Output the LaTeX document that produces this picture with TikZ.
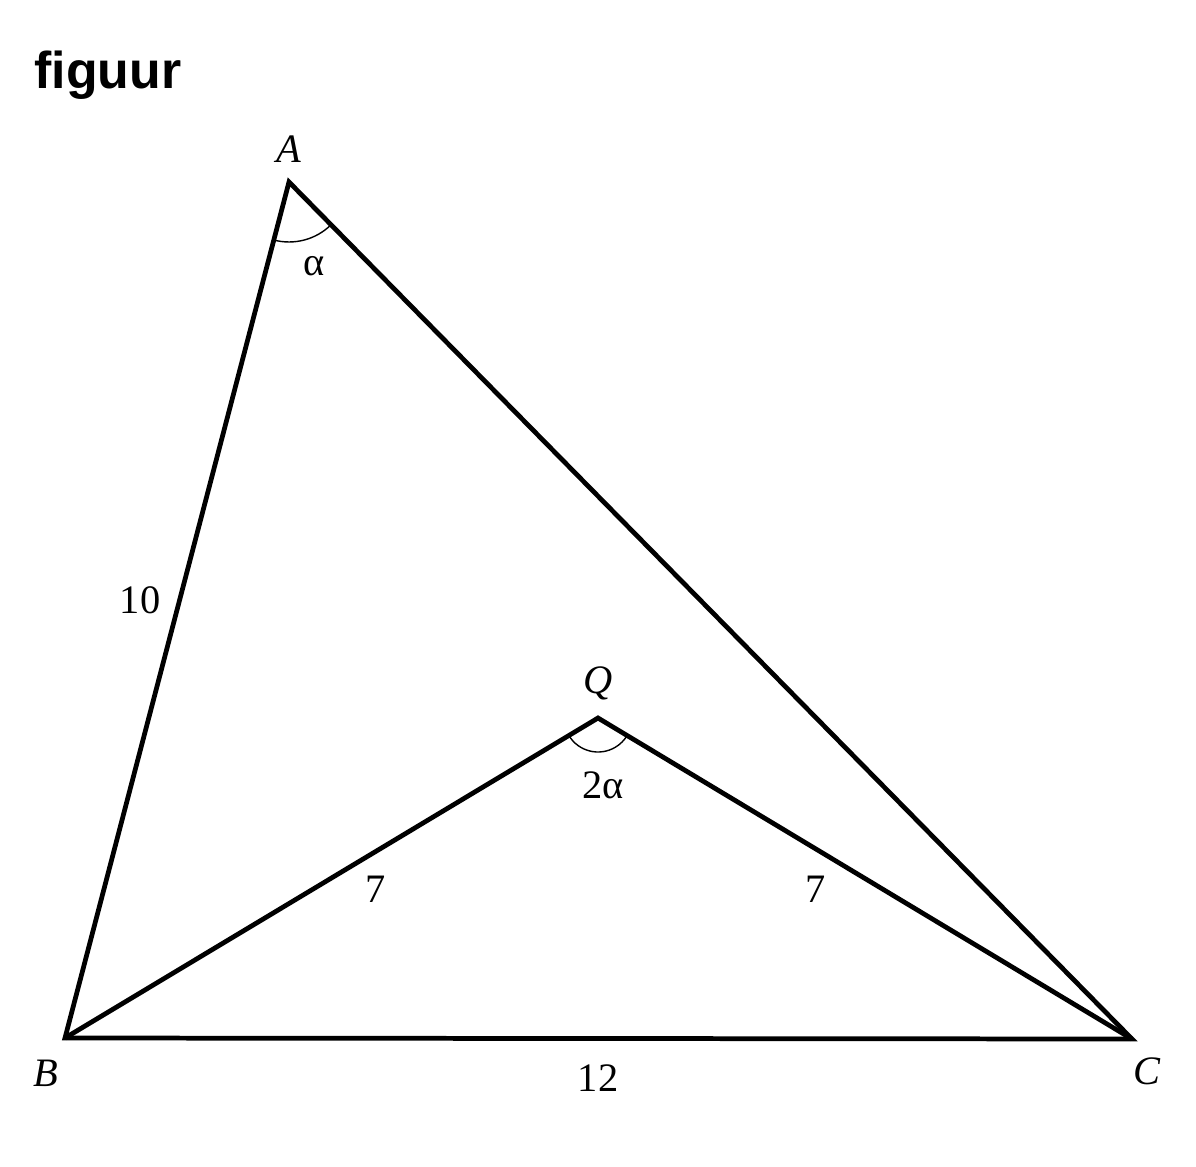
\documentclass[tikz,border=0pt]{standalone}
\usepackage{fontspec}
\setmainfont{Liberation Serif}
\newfontfamily\figfont{Liberation Sans}
\begin{document}
\begin{tikzpicture}[x=0.02cm,y=-0.02cm,
  edge/.style={line width=2.7pt,line join=miter},
  anglearc/.style={line width=0.8pt},
  lbl/.style={font=\fontsize{23}{27}\selectfont,inner sep=0pt},
  vlbl/.style={font=\fontsize{23}{27}\selectfont\itshape,inner sep=0pt}]
\useasboundingbox (0,0) rectangle (1196,1166);
\node[font=\figfont\bfseries\fontsize{29.5}{33}\selectfont,inner sep=0pt] (title) at (108,75) {figuur};
\coordinate (A) at (289,182);
\coordinate (B) at (65,1038);
\coordinate (C) at (1132,1039);
\coordinate (Q) at (598,718);
\draw[edge] (A) -- (B) -- (C) -- cycle;
\draw[edge] (B) -- (Q) -- (C);
\draw[anglearc] (A) ++(255.3:1.2cm) arc[start angle=255.3,end angle=314.5,radius=1.2cm];
\draw[anglearc] (Q) ++(211:0.68cm) arc[start angle=211,end angle=329,radius=0.68cm];
\node[vlbl] (lA) at (289,149) {A};
\node[vlbl] (lB) at (46,1073) {B};
\node[vlbl] (lC) at (1147,1071) {C};
\node[vlbl] (lQ) at (598,683) {Q};
\node[lbl] (la) at (314,266) {α};
\node[lbl] (l2a) at (603,785) {2α};
\node[lbl] (l10) at (140,600) {10};
\node[lbl] (l7a) at (376,889) {7};
\node[lbl] (l7b) at (816,889) {7};
\node[lbl] (l12) at (598,1078) {12};
\end{tikzpicture}
\end{document}
